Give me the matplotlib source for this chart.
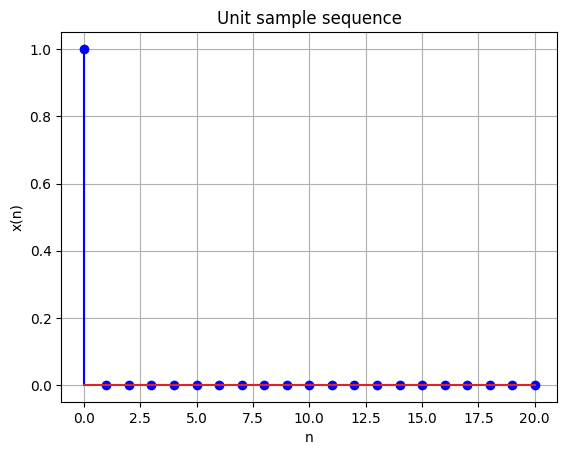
import matplotlib
matplotlib.use("Agg")
import matplotlib.pyplot as plt

n = [0, 1, 2, 3, 4, 5, 6, 7, 8, 9, 10, 11, 12, 13, 14, 15, 16, 17, 18, 19, 20]
x = [1, 0, 0, 0, 0, 0, 0, 0, 0, 0, 0, 0, 0, 0, 0, 0, 0, 0, 0, 0, 0]

fig, ax = plt.subplots(figsize=(5.67, 4.55), dpi=100)
fig.subplots_adjust(left=0.108, right=0.983, bottom=0.116, top=0.929)

ax.stem(n, x, linefmt="b-", markerfmt="bo", basefmt="C3-")

ax.set_title("Unit sample sequence")
ax.set_xlabel("n")
ax.set_ylabel("x(n)")
ax.grid(True)

fig.savefig("out.png", dpi=100)
